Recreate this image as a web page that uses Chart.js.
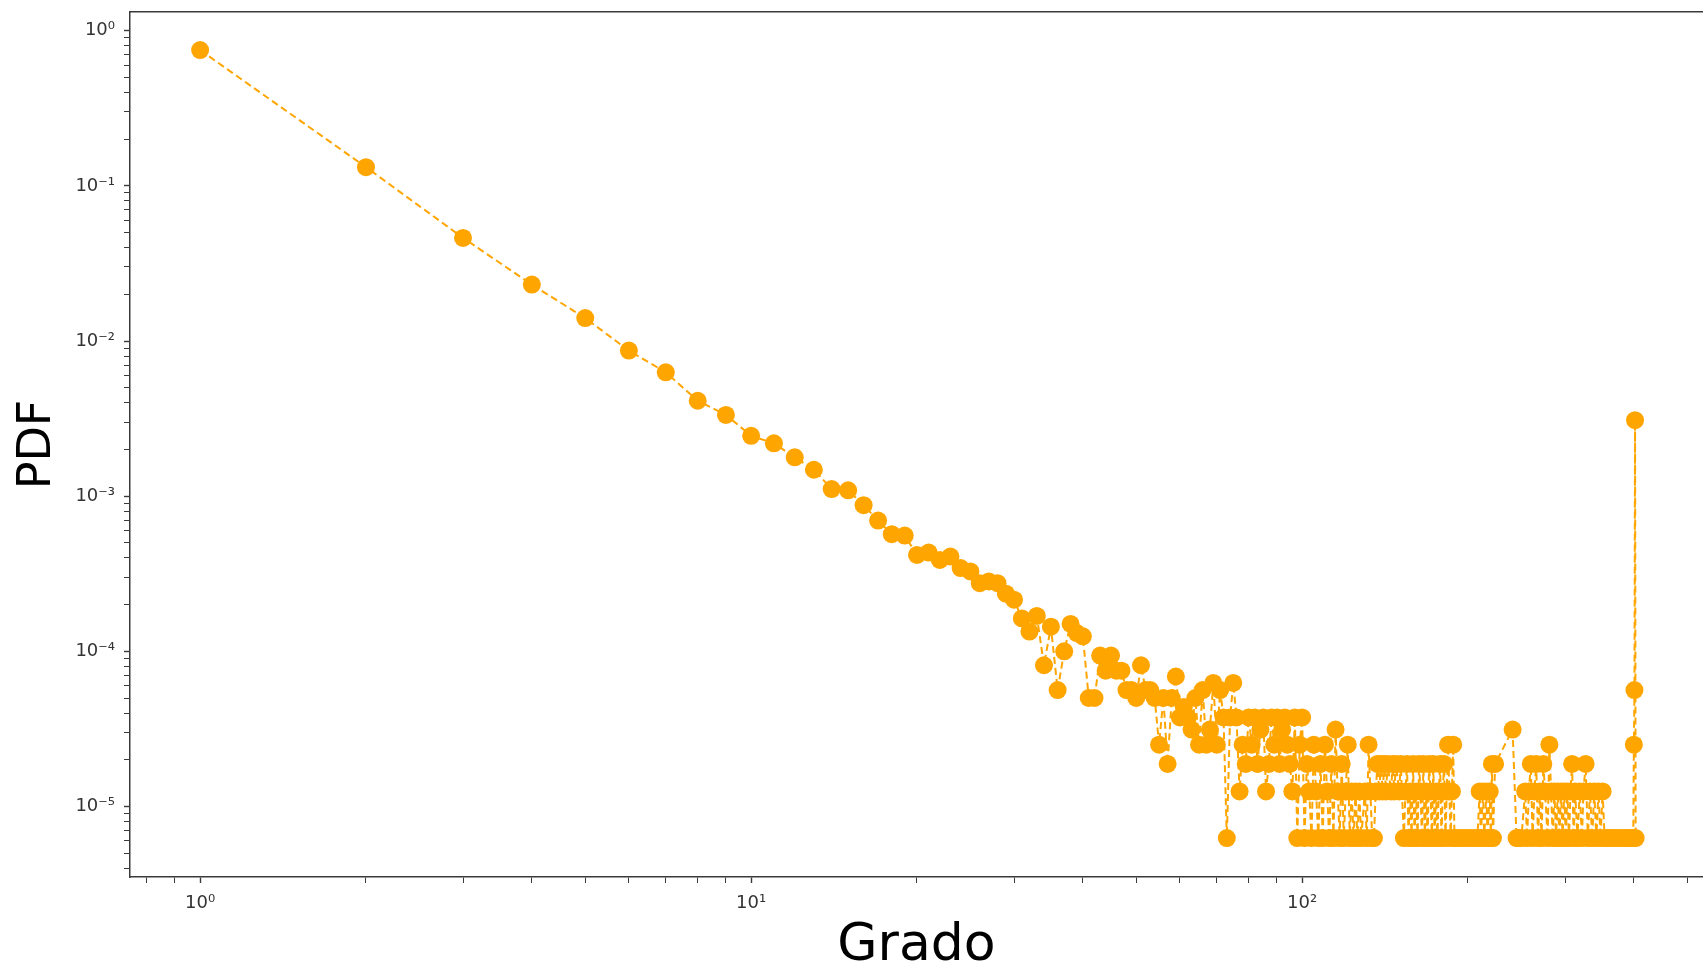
<!DOCTYPE html>
<html>
<head>
<meta charset="utf-8">
<title>PDF - Grado</title>
<script src="https://cdn.jsdelivr.net/npm/chart.js@4.4.0/dist/chart.umd.min.js"></script>
<style>
  html, body { margin: 0; padding: 0; background: #fff; }
  #wrap { width: 1703px; height: 972px; }
</style>
</head>
<body>
<div id="wrap"><canvas id="degreeChart" width="1703" height="972"></canvas></div>
<script>
// degree distribution (x = grado, y = PDF)
var headDegrees = [1, 2, 3, 4, 5, 6, 7, 8, 9, 10,
  11, 12, 13, 14, 15, 16, 17, 18, 19, 20,
  21, 22, 23, 24, 25, 26, 27, 28, 29, 30,
  31, 32, 33, 34, 35, 36, 37, 38, 39, 40,
  41, 42, 43, 44, 45, 46, 47, 48, 49, 50,
  51, 52, 53, 54, 55, 56, 57, 58, 59]
var headPdf = [0.75, 0.132, 0.0462, 0.0231, 0.01405, 0.00867, 0.00628, 0.00412, 0.00334, 0.00245,
  0.00219, 0.00178, 0.00148, 0.00111, 0.00109, 0.000875, 0.000696, 0.000569, 0.000557, 0.000418,
  0.000433, 0.000388, 0.000408, 0.000344, 0.000327, 0.000275, 0.000282, 0.000275, 0.000235, 0.000215,
  0.000163, 0.000134, 0.000169, 0.0000813, 0.000144, 0.0000563, 0.0001, 0.00015, 0.000131, 0.000125,
  0.00005, 0.00005, 0.0000938, 0.000075, 0.0000938, 0.000075, 0.000075, 0.0000563, 0.0000563, 0.00005,
  0.0000813, 0.0000563, 0.0000563, 0.00005, 0.000025, 0.00005, 0.0000188, 0.00005, 0.0000688]

var midDegrees = [60, 61, 62, 63, 64, 65, 66, 67, 68, 69,
  70, 71, 72, 73, 74, 75, 76, 77, 78, 79,
  80, 81, 82, 83, 84, 85, 86, 87, 88, 89,
  90, 91, 92, 93, 94, 95, 96, 97, 98, 99,
  100, 101, 102, 103, 104, 105, 106, 107, 108, 109,
  110, 111, 112, 113, 114, 115, 116, 117, 118, 119,
  120, 121, 122, 123, 124, 125, 126, 127, 128, 130,
  131, 132, 133, 134, 135]
var midPdf = [3.75e-5, 4.38e-5, 3.75e-5, 3.13e-5, 5e-5, 2.5e-5, 5.63e-5, 2.5e-5, 3.13e-5, 6.25e-5,
  2.5e-5, 5.63e-5, 3.75e-5, 6.25e-6, 3.75e-5, 6.25e-5, 3.75e-5, 1.25e-5, 2.5e-5, 1.88e-5,
  3.75e-5, 2.5e-5, 3.75e-5, 1.88e-5, 3.13e-5, 3.75e-5, 1.25e-5, 1.88e-5, 3.75e-5, 2.5e-5,
  3.75e-5, 1.88e-5, 3.13e-5, 3.75e-5, 2.5e-5, 1.88e-5, 1.25e-5, 3.75e-5, 6.25e-6, 2.5e-5,
  3.75e-5, 6.25e-6, 1.88e-5, 1.25e-5, 6.25e-6, 2.5e-5, 1.25e-5, 6.25e-6, 1.88e-5, 6.25e-6,
  2.5e-5, 1.25e-5, 6.25e-6, 1.88e-5, 6.25e-6, 3.13e-5, 1.25e-5, 6.25e-6, 1.88e-5, 6.25e-6,
  1.25e-5, 2.5e-5, 6.25e-6, 1.25e-5, 6.25e-6, 1.25e-5, 6.25e-6, 1.25e-5, 6.25e-6, 1.25e-5,
  6.25e-6, 2.5e-5, 1.25e-5, 6.25e-6, 6.25e-6]

var tailDegrees = [136, 137, 138, 139, 140, 141, 142, 143, 145, 146,
  147, 148, 150, 151, 153, 154, 155, 156, 157, 158,
  159, 160, 161, 162, 163, 164, 165, 166, 167, 168,
  169, 170, 171, 172, 173, 174, 175, 176, 177, 178,
  179, 180, 181, 182, 183, 184, 185, 186, 187, 188,
  189, 190, 193, 196, 199, 202, 205, 208, 210, 211,
  213, 214, 216, 217, 219, 220, 221, 222, 224, 241,
  245, 247, 250, 254, 256, 258, 260, 262, 264, 266,
  268, 270, 272, 274, 276, 279, 281, 283, 285, 287,
  289, 291, 293, 295, 297, 299, 301, 303, 305, 307,
  309, 311, 313, 316, 319, 322, 324, 327, 330, 333,
  336, 339, 342, 345, 348, 351, 354, 358, 362, 366,
  371, 376, 381, 386, 391, 396, 399, 400, 401, 402,
  403]
var tailPdf = [1.25e-5, 1.88e-5, 1.25e-5, 1.88e-5, 1.25e-5, 1.88e-5, 1.25e-5, 1.88e-5, 1.25e-5, 1.88e-5,
  1.25e-5, 1.88e-5, 1.25e-5, 1.88e-5, 6.25e-6, 1.25e-5, 1.88e-5, 6.25e-6, 1.25e-5, 6.25e-6,
  1.88e-5, 6.25e-6, 1.25e-5, 6.25e-6, 1.88e-5, 1.25e-5, 6.25e-6, 1.88e-5, 6.25e-6, 1.25e-5,
  6.25e-6, 1.88e-5, 1.25e-5, 6.25e-6, 1.88e-5, 6.25e-6, 1.25e-5, 6.25e-6, 1.25e-5, 1.88e-5,
  6.25e-6, 1.25e-5, 1.88e-5, 6.25e-6, 1.25e-5, 2.5e-5, 1.25e-5, 6.25e-6, 1.25e-5, 2.5e-5,
  6.25e-6, 6.25e-6, 6.25e-6, 6.25e-6, 6.25e-6, 6.25e-6, 6.25e-6, 6.25e-6, 1.25e-5, 6.25e-6,
  1.25e-5, 6.25e-6, 1.25e-5, 6.25e-6, 1.25e-5, 6.25e-6, 1.88e-5, 6.25e-6, 1.88e-5, 3.13e-5,
  6.25e-6, 6.25e-6, 6.25e-6, 1.25e-5, 6.25e-6, 1.25e-5, 1.88e-5, 6.25e-6, 1.25e-5, 1.88e-5,
  6.25e-6, 1.25e-5, 6.25e-6, 1.88e-5, 1.25e-5, 6.25e-6, 2.5e-5, 1.25e-5, 6.25e-6, 1.25e-5,
  6.25e-6, 1.25e-5, 6.25e-6, 1.25e-5, 6.25e-6, 1.25e-5, 6.25e-6, 1.25e-5, 6.25e-6, 1.25e-5,
  1.88e-5, 6.25e-6, 1.25e-5, 6.25e-6, 1.25e-5, 6.25e-6, 1.25e-5, 1.88e-5, 6.25e-6, 1.25e-5,
  6.25e-6, 1.25e-5, 6.25e-6, 1.25e-5, 6.25e-6, 1.25e-5, 6.25e-6, 6.25e-6, 6.25e-6, 6.25e-6,
  6.25e-6, 6.25e-6, 6.25e-6, 6.25e-6, 6.25e-6, 6.25e-6, 6.25e-6, 2.5e-5, 5.63e-5, 3.09e-3,
  6.25e-6]

var xMajorTicks = [1, 10, 100]
var xTickLabels = ['10\u2070', '10\u00b9', '10\u00b2']
var xMinorTicks = [0.8, 0.9, 2, 3, 4, 5, 6, 7, 8, 9, 20, 30, 40, 50, 60, 70, 80, 90, 200, 300, 400, 500]

var yMajorTicks = [1, 0.1, 0.01, 0.001, 0.0001, 0.00001]
var yTickLabels = ['10\u2070', '10\u207b\u00b9', '10\u207b\u00b2', '10\u207b\u00b3', '10\u207b\u2074', '10\u207b\u2075']
var yMinorTicks = [0.000004, 0.000005, 0.000006, 0.000007, 0.000008, 0.000009,
  0.00002, 0.00003, 0.00004, 0.00005, 0.00006, 0.00007, 0.00008, 0.00009,
  0.0002, 0.0003, 0.0004, 0.0005, 0.0006, 0.0007, 0.0008, 0.0009,
  0.002, 0.003, 0.004, 0.005, 0.006, 0.007, 0.008, 0.009,
  0.02, 0.03, 0.04, 0.05, 0.06, 0.07, 0.08, 0.09,
  0.2, 0.3, 0.4, 0.5, 0.6, 0.7, 0.8, 0.9]

var spineColor = '#3a3a3a'
var tickFont = { family: 'DejaVu Sans', size: 18 }

function toPoints(xs, ys) {
  return xs.map(function (x, i) { return { x: x, y: ys[i] } })
}

function fixedTicks(major, minor) {
  return function (axis) {
    axis.ticks = major.concat(minor).sort(function (a, b) { return a - b }).map(function (v) {
      return { value: v }
    })
  }
}

function tickLabel(major, labels) {
  return function (value) {
    var i = major.indexOf(value)
    return i >= 0 ? labels[i] : ''
  }
}

function tickWidth(major) {
  return function (ctx) {
    return ctx.tick && major.indexOf(ctx.tick.value) >= 0 ? 1.4 : 1
  }
}

// fixed box sizes so the plot area sits where the original one does
function fitBox(size, horizontal) {
  return function (axis) {
    if (horizontal) axis.height = size
    else axis.width = size
    axis.paddingLeft = 0
    axis.paddingRight = 0
    axis.paddingTop = 0
    axis.paddingBottom = 0
  }
}

var points = toPoints(headDegrees, headPdf)
  .concat(toPoints(midDegrees, midPdf))
  .concat(toPoints(tailDegrees, tailPdf))

new Chart(document.getElementById('degreeChart'), {
  type: 'scatter',
  data: {
    datasets: [{
      label: 'PDF',
      data: points,
      showLine: true,
      borderColor: '#FFA500',
      borderWidth: 2,
      borderDash: [7, 4],
      backgroundColor: '#FFA500',
      pointBackgroundColor: '#FFA500',
      pointBorderWidth: 0,
      pointRadius: 9,
      pointHoverRadius: 9,
      tension: 0
    }]
  },
  options: {
    responsive: false,
    devicePixelRatio: 1,
    animation: false,
    layout: { padding: 0, autoPadding: false },
    plugins: {
      legend: { display: false },
      tooltip: { enabled: false }
    },
    scales: {
      x: {
        type: 'logarithmic',
        position: 'bottom',
        bounds: 'data',
        min: 0.746,
        max: 534,
        afterBuildTicks: fixedTicks(xMajorTicks, xMinorTicks),
        afterFit: fitBox(95, true),
        ticks: {
          autoSkip: false,
          maxRotation: 0,
          padding: 10,
          color: '#333',
          font: tickFont,
          callback: tickLabel(xMajorTicks, xTickLabels)
        },
        grid: {
          drawOnChartArea: false,
          drawTicks: true,
          tickLength: 6,
          tickColor: spineColor,
          tickWidth: tickWidth(xMajorTicks)
        },
        border: { color: spineColor, width: 1.5 },
        title: {
          display: true,
          text: 'Grado',
          color: '#000',
          font: { family: 'DejaVu Sans', size: 52, lineHeight: 1 },
          padding: { top: 0, bottom: 0 }
        }
      },
      xTop: {
        type: 'linear',
        position: 'top',
        display: true,
        min: 0,
        max: 1,
        afterFit: fitBox(12, true),
        ticks: { display: false },
        grid: { display: false, drawTicks: false },
        border: { color: spineColor, width: 1.5 }
      },
      y: {
        type: 'logarithmic',
        position: 'left',
        bounds: 'data',
        min: 0.00000351,
        max: 1.32,
        afterBuildTicks: fixedTicks(yMajorTicks, yMinorTicks),
        afterFit: fitBox(130, false),
        ticks: {
          autoSkip: false,
          padding: 9,
          color: '#333',
          font: tickFont,
          callback: tickLabel(yMajorTicks, yTickLabels)
        },
        grid: {
          drawOnChartArea: false,
          drawTicks: true,
          tickLength: 6,
          tickColor: spineColor,
          tickWidth: tickWidth(yMajorTicks)
        },
        border: { color: spineColor, width: 1.5 },
        title: {
          display: true,
          text: 'PDF',
          color: '#000',
          font: { family: 'DejaVu Sans', size: 46, lineHeight: 1 },
          padding: { top: 15, bottom: 0 }
        }
      }
    }
  }
})
</script>
</body>
</html>
